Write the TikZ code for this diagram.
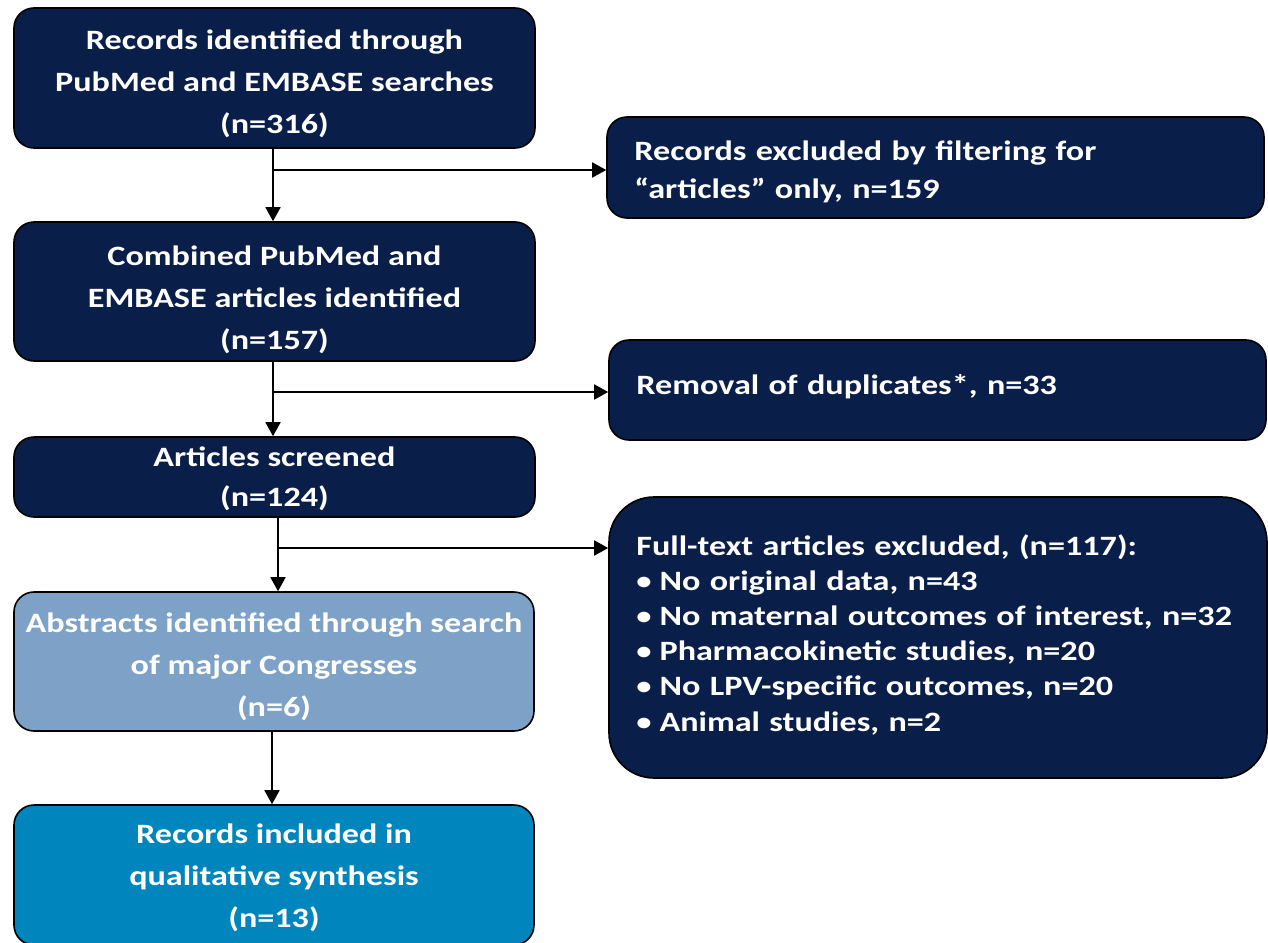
\documentclass[tikz,border=0pt]{standalone}
\usepackage{fontspec}
\setmainfont{Carlito}[FakeStretch=1.22]
\usetikzlibrary{arrows.meta,calc}
\definecolor{navy}{RGB}{10,30,74}
\definecolor{steel}{RGB}{126,162,199}
\definecolor{tealbox}{RGB}{0,133,188}
\newcommand\mybul{\raisebox{1pt}{\fontsize{25}{25}\selectfont •}\hspace{8pt}}
\begin{document}
\begin{tikzpicture}[x=1pt,y=-1pt,
  box/.style={draw=black, line width=1.6pt, rounded corners=20pt, fill=navy, inner sep=0pt,
    minimum width=521pt},
  txt/.style={text=white, font=\bfseries\fontsize{28}{42}\selectfont, align=center, inner sep=0pt},
  ltxt/.style={txt, align=left, anchor=west, text width=601pt},
  conn/.style={line width=1.8pt, -{Triangle[length=14pt,width=15pt]}}]
\useasboundingbox (0,0) rectangle (1268,942);

\node[box, minimum height=140pt] (A) at (274.5,78) {};
\node[txt] (At) at ([yshift=-6pt]A.center) {Records identified through\\PubMed and EMBASE searches\\(n=316)};

\node[box, minimum width=657pt, minimum height=101pt] (B) at (935.5,167.5) {};
\node[ltxt, font=\bfseries\fontsize{28}{38}\selectfont] (Bt) at ([xshift=28pt,yshift=-4pt]B.west) {Records excluded by filtering for\\“articles” only, n=159};

\node[box, minimum height=139pt] (C) at (274.5,291.5) {};
\node[txt] (Ct) at ([yshift=-8pt]C.center) {Combined PubMed and\\EMBASE articles identified\\(n=157)};

\node[box, minimum width=657pt, minimum height=100pt] (D) at (937.5,390) {};
\node[ltxt] (Dt) at ([xshift=28pt,yshift=3pt]D.west) {Removal of duplicates*, n=33};

\node[box, minimum height=80pt] (E) at (274.5,477) {};
\node[txt, font=\bfseries\fontsize{28}{40}\selectfont] (Et) at ([yshift=-2pt]E.center) {Articles screened\\(n=124)};

\node[box, rounded corners=45pt, minimum width=658pt, minimum height=281pt] (F) at (938,637.5) {};
\node[ltxt, font=\bfseries\fontsize{28}{35.2}\selectfont] (Ft) at ([xshift=28pt,yshift=3pt]F.west) {Full-text articles excluded, (n=117):\\\mybul No original data, n=43\\\mybul No maternal outcomes of interest, n=32\\\mybul Pharmacokinetic studies, n=20\\\mybul No LPV-specific outcomes, n=20\\\mybul Animal studies, n=2};

\node[box, fill=steel, minimum width=520pt, minimum height=139pt] (G) at (274,661.5) {};
\node[txt] (Gt) at ([yshift=-5pt]G.center) {Abstracts identified through search\\of major Congresses\\(n=6)};

\node[box, fill=tealbox, minimum width=520pt, minimum height=140pt] (H) at (274,875) {};
\node[txt] (Ht) at ([yshift=-3pt]H.center) {Records included in\\qualitative synthesis\\(n=13)};

\draw[conn] ([xshift=-1.5pt]A.south) -- ([xshift=-1.5pt]C.north);
\coordinate (b1) at (273,170);
\draw[conn] (b1) -- (b1 -| B.west);

\draw[conn] ([xshift=-1.5pt]C.south) -- ([xshift=-1.5pt]E.north);
\coordinate (b2) at (273,392);
\draw[conn] (b2) -- (b2 -| D.west);

\draw[conn] ([xshift=3.5pt]E.south) -- ([xshift=4pt]G.north);
\coordinate (b3) at (278,548);
\draw[conn] (b3) -- (b3 -| F.west);

\draw[conn] ([xshift=-2pt]G.south) -- ([xshift=-2pt]H.north);
\end{tikzpicture}
\end{document}
